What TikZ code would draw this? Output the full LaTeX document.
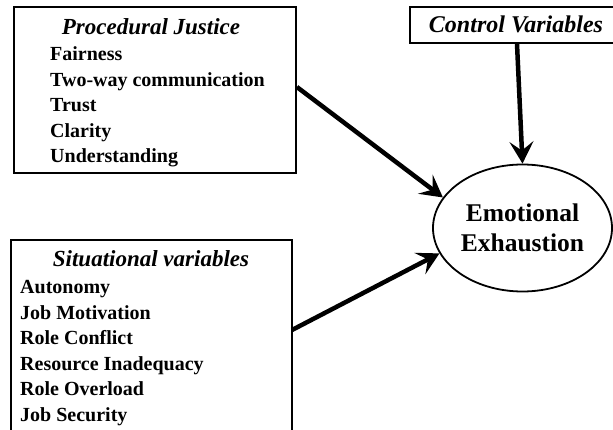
\documentclass[tikz,border=0pt]{standalone}
\usepackage{fontspec}
\setmainfont{Liberation Serif}
\usetikzlibrary{arrows.meta,shapes.geometric}

\tikzset{
	,x = 1pt, y = -1pt
	,font = \bfseries\fontsize{20}{24}\selectfont
	,varbox/.style  = {rectangle, draw=black, line width=1.8pt, inner sep=0pt}
	,titletext/.style = {anchor=base, inner sep=0pt, font=\bfseries\itshape\fontsize{23}{26}\selectfont}
	,itemtext/.style = {anchor=base west, inner sep=0pt}
	,outcome/.style = {ellipse, draw=black, line width=1.8pt, inner sep=0pt, align=center}
	,bigarrow/.style = {-{Stealth[length=22pt, width=24pt, inset=9pt]}, line width=4.5pt}
}

\begin{document}
\begin{tikzpicture}
	\useasboundingbox (0,0) rectangle (613,430);
	\clip (0,0) rectangle (613,430);
	% procedural justice
	\node[varbox, minimum width=282pt, minimum height=166pt] at (155,90) (pj) {};
	\node[titletext] at (151,35) (pjtitle) {Procedural Justice};
	\foreach \txt [count=\i from 0] in {Fairness, Two-way communication, Trust, Clarity, Understanding}
		\node[itemtext] at (50, 61+25.5*\i) (pj\i) {\txt};
	% control variables
	\node[varbox, minimum width=214pt, minimum height=36pt] at (517,25) (cv) {};
	\node[titletext, font=\bfseries\itshape\fontsize{24}{26}\selectfont] at (516,33) (cvtitle) {Control Variables};
	% situational variables
	\node[varbox, minimum width=281pt, minimum height=220pt] at (151.5,350) (sv) {};
	\node[titletext] at (151,267) (svtitle) {Situational variables};
	\foreach \txt [count=\i from 0] in {Autonomy, Job Motivation, Role Conflict, Resource Inadequacy, Role Overload, Job Security}
		\node[itemtext] at (20, 294+25.4*\i) (sv\i) {\txt};
	\coordinate (svout) at (292,330);
	% outcome
	\node[outcome, minimum width=179pt, minimum height=127pt, font=\bfseries\fontsize{25.5}{30}\selectfont] at (522.5,228) (ee) {Emotional\\Exhaustion};
	\draw[bigarrow] ([yshift=3pt]pj.east) -- (ee.159);
	\draw[bigarrow] (cv.south) -- (ee.north);
	\draw[bigarrow] (svout) -- (ee.197);
\end{tikzpicture}
\end{document}
